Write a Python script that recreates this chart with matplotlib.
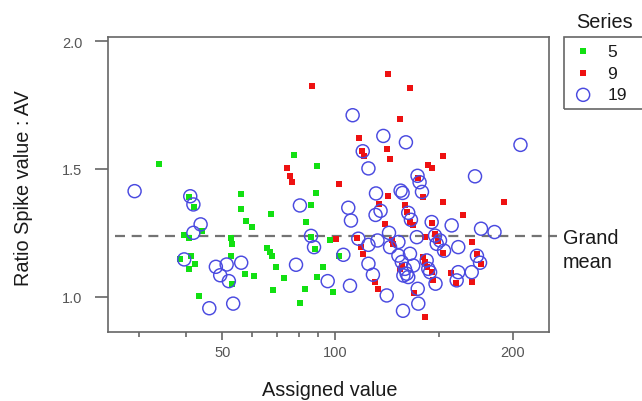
import numpy as np
import matplotlib
matplotlib.use("Agg")
import matplotlib.pyplot as plt
from matplotlib.ticker import FixedLocator, FixedFormatter, NullFormatter
from matplotlib.patches import Rectangle

plt.rcParams['font.family'] = ['Liberation Sans', 'DejaVu Sans']

# ---------------- data ----------------
s5_x = [33.9, 40.8, 42.1, 56.0, 56.2, 57.9, 60.1, 39.6, 40.8, 44.2, 52.8, 53.1, 38.6, 41.4,
        42.2, 40.7, 52.8, 57.5, 60.8, 53.1, 43.5, 67.5, 65.9, 66.9, 67.7, 69.6, 73.1, 68.2,
        77.9, 89.5, 89.0, 86.3, 83.7, 86.3, 88.4, 97.0, 92.7, 89.4, 83.2, 80.6, 101.7, 99.0]
s5_y = [1.520, 1.391, 1.352, 1.402, 1.344, 1.297, 1.271, 1.242, 1.230, 1.258, 1.230, 1.207,
        1.148, 1.161, 1.129, 1.109, 1.160, 1.090, 1.081, 1.051, 1.004, 1.324, 1.191, 1.174,
        1.160, 1.116, 1.073, 1.027, 1.553, 1.512, 1.406, 1.359, 1.292, 1.232, 1.188, 1.220,
        1.116, 1.078, 1.031, 0.977, 1.160, 1.020]

s9_x = [86.6, 123.1, 133.9, 128.8, 109.9, 122.6, 124.1, 111.1, 112.0, 152.4, 143.8, 145.7,
        137.9, 74.6, 75.9, 76.8, 101.7, 141.0, 122.7, 152.0, 193.1, 118.7, 131.3, 132.4,
        133.9, 135.6, 164.3, 145.7, 121.5, 142.0, 124.7, 125.5, 147.6, 152.4, 170.3, 141.0,
        142.0, 142.9, 145.7, 129.7, 128.8, 173.6, 176.4, 157.3, 159.9, 170.8, 146.6, 116.9,
        118.1, 135.8, 142.1, 100.4, 109.1, 110.7, 111.5, 149.4]
s9_y = [1.824, 1.870, 1.816, 1.695, 1.621, 1.578, 1.539, 1.570, 1.551, 1.550, 1.514, 1.503,
        1.463, 1.503, 1.471, 1.449, 1.441, 1.389, 1.393, 1.369, 1.369, 1.361, 1.357, 1.331,
        1.292, 1.279, 1.318, 1.288, 1.285, 1.233, 1.220, 1.207, 1.246, 1.171, 1.216, 1.155,
        1.136, 1.116, 1.096, 1.122, 1.109, 1.168, 1.129, 1.092, 1.053, 1.057, 1.066, 1.057,
        1.031, 1.014, 0.920, 1.224, 1.230, 1.196, 1.168, 1.219]

s19_x = [29.2, 41.1, 41.9, 43.8, 41.9, 39.6, 48.1, 51.4, 56.2, 49.4, 52.1, 46.2, 53.5, 80.6,
         86.3, 87.9, 78.7, 95.6, 103.3, 106.0, 105.3, 106.4, 107.1, 120.7, 131.8, 205.9,
         113.9, 111.4, 137.9, 139.0, 172.5, 129.1, 130.1, 140.3, 117.3, 117.1, 119.4, 133.0,
         134.4, 145.7, 157.5, 176.6, 186.1, 123.4, 113.9, 118.0, 128.0, 137.5, 109.5, 147.6,
         150.5, 148.6, 152.9, 161.6, 123.9, 128.0, 133.9, 113.9, 129.7, 135.6, 131.3, 132.2,
         133.0, 130.5, 142.9, 143.8, 144.8, 115.9, 147.9, 161.6, 170.3, 173.8, 175.9, 160.6,
         122.3, 138.0, 138.3, 130.3]
s19_y = [1.413, 1.393, 1.361, 1.283, 1.250, 1.146, 1.117, 1.126, 1.133, 1.084, 1.061, 0.955,
         0.973, 1.357, 1.238, 1.194, 1.125, 1.061, 1.164, 1.043, 1.348, 1.298, 1.710, 1.629,
         1.604, 1.594, 1.502, 1.569, 1.473, 1.448, 1.471, 1.415, 1.406, 1.410, 1.404, 1.320,
         1.336, 1.328, 1.301, 1.292, 1.279, 1.266, 1.253, 1.250, 1.203, 1.220, 1.214, 1.233,
         1.227, 1.239, 1.220, 1.207, 1.180, 1.194, 1.194, 1.161, 1.168, 1.129, 1.136, 1.122,
         1.109, 1.090, 1.077, 1.083, 1.142, 1.109, 1.096, 1.086, 1.051, 1.096, 1.096, 1.160,
         1.133, 1.064, 1.005, 1.031, 0.973, 0.945]

grand_mean = 1.236
x_major = [50, 100, 200]
x_major_labels = ["50", "100", "200"]
x_minor = [30, 40, 60, 70, 80, 90, 150]
y_ticks = [1.0, 1.5, 2.0]
y_tick_labels = ["1.0", "1.5", "2.0"]
series_labels = ["5", "9", "19"]

# ---------------- axis scale (log, wider above 100) ----------------
K = 1.577


def fwd(x):
    x = np.asarray(x, dtype=float)
    lx = np.log10(np.clip(x, 1e-6, None))
    return np.where(lx <= 2, lx, 2 + (lx - 2) * K)


def inv(y):
    y = np.asarray(y, dtype=float)
    return np.where(y <= 2, 10 ** y, 10 ** (2 + (y - 2) / K))


W, H = 642, 402
fig = plt.figure(figsize=(W / 100, H / 100), dpi=100)
ax = fig.add_axes([108 / W, 1 - 333 / H, (549 - 108) / W, (333 - 38) / H])
ax.set_xscale('function', functions=(fwd, inv))
ax.set_xlim(24.8, 230.1)
ax.set_ylim(0.862, 2.016)

green = '#12e012'
red = '#ee1111'
blue = '#4a4ae0'

ax.scatter(s5_x, s5_y, marker='s', s=14, color=green, linewidths=0, zorder=3, label=series_labels[0])
ax.scatter(s9_x, s9_y, marker='s', s=17, color=red, linewidths=0, zorder=3, label=series_labels[1])
ax.scatter(s19_x, s19_y, marker='o', s=88, facecolors='none', edgecolors=blue, linewidths=1.05,
           zorder=4, label=series_labels[2])

# grand mean dashed line (extends beyond axes)
ax.plot([0.016, 1.018], [grand_mean, grand_mean], transform=ax.get_yaxis_transform(),
        color='#737373', lw=1.6, dashes=(4.5, 3), clip_on=False, zorder=2)
fig.text(563 / W, 1 - 229 / H, "Grand\nmean", fontsize=14.3, va='top', ha='left',
         color='#1a1a1a', linespacing=1.3)

# ticks
ax.xaxis.set_major_locator(FixedLocator(x_major))
ax.xaxis.set_major_formatter(FixedFormatter(x_major_labels))
ax.xaxis.set_minor_locator(FixedLocator(x_minor))
ax.xaxis.set_minor_formatter(NullFormatter())
ax.set_yticks(y_ticks)
ax.set_yticklabels(y_tick_labels)

spine_c = '#666666'
for sp in ax.spines.values():
    sp.set_color(spine_c)
    sp.set_linewidth(1.2)
ax.tick_params(axis='y', which='major', length=9.5, width=1.2, color=spine_c,
               labelsize=10.5, labelcolor='#555555', pad=9)
ax.tick_params(axis='x', which='major', length=5.5, width=1.2, color=spine_c,
               labelsize=10.5, labelcolor='#555555', pad=4)
ax.tick_params(axis='x', which='minor', length=3.5, width=1.2, color=spine_c)

fig.text(24 / W, 1 - 188 / H, "Ratio Spike value : AV", rotation=90, fontsize=14.3,
         va='center', ha='center', color='#1a1a1a')
fig.text(330 / W, 1 - 396 / H, "Assigned value", fontsize=14.3, va='baseline', ha='center',
         color='#1a1a1a')

# legend
fig.text(604 / W, 1 - 22 / H, "Series", fontsize=14.3, va='center', ha='center', color='#1a1a1a')
fig.patches.append(Rectangle((564 / W, 1 - 110 / H), 0.2, 72 / H, transform=fig.transFigure,
                             facecolor='none', edgecolor=spine_c, lw=1.2, clip_on=False))
leg = fig.legend(loc='upper left', bbox_to_anchor=(571 / W, 1 - 43 / H), frameon=False,
                 fontsize=12.5, handlelength=1.2, handletextpad=0.8, labelspacing=0.38,
                 borderaxespad=0, borderpad=0.1, scatterpoints=1)
for t in leg.get_texts():
    t.set_color('#1a1a1a')

fig.savefig("out.png", dpi=100)
